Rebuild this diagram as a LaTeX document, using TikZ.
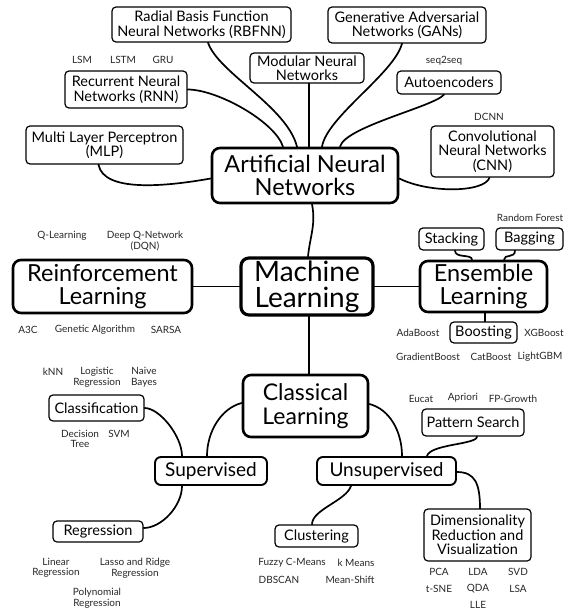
\documentclass[tikz,border=0pt]{standalone}
\usepackage{fontspec}
\setmainfont{Lato}
\usepackage{tikz}

\begin{document}
\begin{tikzpicture}
	[
	x=1pt, y=-1pt, line width=1.7pt, line cap=round,
	%Stile fuer die Kaesten und Beschriftungen
	kasten/.style 2 args={minimum width=#1pt, minimum height=#2pt},
	gross/.style={draw, line width=2.6pt, rounded corners=8pt, align=center, inner sep=0pt, font=\fontsize{23.5}{23}\selectfont},
	mittel/.style={draw, line width=1.9pt, rounded corners=6pt, align=center, inner sep=0pt, font=\fontsize{19}{19}\selectfont},
	klein/.style={draw, line width=1.2pt, rounded corners=4pt, align=center, inner sep=0pt, font=\fontsize{14.5}{14.5}\selectfont},
	wort/.style={align=center, inner sep=0pt, text=black!85, font=\fontsize{10}{10.5}\selectfont}
	]
	
	%Rahmen
	\useasboundingbox (0,0) rectangle (564,615);
	
	%Hauptkaesten
	\node[gross, kasten={186}{55}] (ann) at (305,175.5) {Artificial Neural\\Networks};
	\node[gross, line width=3.2pt, font=\fontsize{28}{26}\selectfont, kasten={132}{57}] (ml) at (307,286.5) {Machine\\Learning};
	\node[gross, kasten={179}{53}] (rl) at (102.5,286.5) {Reinforcement\\Learning};
	\node[gross, kasten={127}{51}] (ens) at (483.5,286.5) {Ensemble\\Learning};
	\node[gross, font=\fontsize{23}{24}\selectfont, kasten={125}{62}] (cl) at (305.5,406) {Classical\\Learning};
	
	%Supervised und Unsupervised
	\node[mittel, kasten={112}{28}] (sup) at (211,471) {Supervised};
	\node[mittel, kasten={139}{28}] (uns) at (386.5,471) {Unsupervised};
	
	%Kleine Kaesten
	\node[klein, kasten={179}{35}] (rbf) at (201.5,24.5) {Radial Basis Function\\Neural Networks (RBFNN)};
	\node[klein, kasten={114}{30}] (mod) at (307,68) {Modular Neural\\Networks};
	\node[klein, kasten={158}{36}] (gan) at (407,25) {Generative Adversarial\\Networks (GANs)};
	\node[klein, kasten={122}{37}] (rnn) at (126,89.5) {Recurrent Neural\\Networks (RNN)};
	\node[klein, kasten={104}{23}] (aut) at (449,82.5) {Autoencoders};
	\node[klein, kasten={157}{38}] (mlp) at (104.5,145) {Multi Layer Perceptron\\(MLP)};
	\node[klein, kasten={123}{51}] (cnn) at (492.5,151.5) {Convolutional\\Neural Networks\\(CNN)};
	\node[klein, kasten={65}{22}] (stk) at (451.5,239) {Stacking};
	\node[klein, kasten={67}{22}] (bag) at (529.5,239) {Bagging};
	\node[klein, kasten={67}{21}] (boo) at (483.5,332.5) {Boosting};
	\node[klein, kasten={102}{27}] (pat) at (473,422.5) {Pattern Search};
	\node[klein, kasten={95}{26}] (cla) at (96.5,408) {Classification};
	\node[klein, kasten={90}{21}] (reg) at (98,531.5) {Regression};
	\node[klein, kasten={83}{22}] (clu) at (316.5,536) {Clustering};
	\node[klein, kasten={107}{52}] (dim) at (477.5,535) {Dimensionality\\Reduction and\\Visualization};
	
	%Beschriftungen
	\node[wort] (lsm) at (82,60) {LSM};
	\node[wort] (lstm) at (123,60) {LSTM};
	\node[wort] (gru) at (163,60) {GRU};
	\node[wort] (s2s) at (444,61) {seq2seq};
	\node[wort] (dcnn) at (489,117) {DCNN};
	\node[wort] (ql) at (62,236) {Q-Learning};
	\node[wort] (dqn) at (145,241) {Deep Q-Network\\(DQN)};
	\node[wort] (a3c) at (28,330) {A3C};
	\node[wort] (gen) at (95,330) {Genetic Algorithm};
	\node[wort] (sarsa) at (166,330) {SARSA};
	\node[wort] (rf) at (530,218) {Random Forest};
	\node[wort] (ada) at (418,333) {AdaBoost};
	\node[wort] (xgb) at (544,333) {XGBoost};
	\node[wort] (grad) at (428,357) {GradientBoost};
	\node[wort] (cat) at (491,357) {CatBoost};
	\node[wort] (lgbm) at (540,357) {LightGBM};
	\node[wort] (knn) at (53,372) {kNN};
	\node[wort] (logr) at (97,377) {Logistic\\Regression};
	\node[wort] (nb) at (144,377) {Naive\\Bayes};
	\node[wort] (dt) at (80,439) {Decision\\Tree};
	\node[wort] (svm) at (119,434) {SVM};
	\node[wort] (lin) at (56,568) {Linear\\Regression};
	\node[wort] (lasso) at (135,568) {Lasso and Ridge\\Regression};
	\node[wort] (poly) at (97,598) {Polynomial\\Regression};
	\node[wort] (euc) at (421,399) {Eucat};
	\node[wort] (apr) at (463,398) {Apriori};
	\node[wort] (fpg) at (513,399) {FP-Growth};
	\node[wort] (fcm) at (292,563) {Fuzzy C-Means};
	\node[wort] (km) at (356,563) {k Means};
	\node[wort] (dbs) at (279,580) {DBSCAN};
	\node[wort] (ms) at (350,580) {Mean-Shift};
	\node[wort] (pca) at (439,572) {PCA};
	\node[wort] (lda) at (478,572) {LDA};
	\node[wort] (svd) at (518,572) {SVD};
	\node[wort] (tsne) at (439,589) {t-SNE};
	\node[wort] (qda) at (478,589) {QDA};
	\node[wort] (lsa) at (518,589) {LSA};
	\node[wort] (lle) at (478,605) {LLE};
	
	%Verbindungen zur Mitte
	\draw ([xshift=7pt]ann.south) .. controls +(4,20) and +(2,-20) .. ([xshift=1pt]ml.north);
	\draw (rl) -- (ml);
	\draw (ml) -- (ens);
	\draw ([xshift=2pt]ml.south) .. controls +(0,20) and +(0,-20) .. ([xshift=3.5pt]cl.north);
	
	%Verbindungen Neuronale Netze
	\draw ([xshift=-6pt]mlp.south) .. controls +(5,28) and +(-45,8) .. ([yshift=-3pt]ann.west);
	\draw (rnn.east) .. controls +(30,0) and +(-8,-25) .. ([xshift=-22pt]ann.north);
	\draw ([xshift=6.5pt]rbf.south) .. controls +(10,30) and +(-10,-40) .. ([xshift=-8pt]ann.north);
	\draw ([xshift=2pt]mod.south) -- ([xshift=4pt]ann.north);
	\draw ([xshift=-5pt]gan.south) .. controls +(-8,30) and +(5,-30) .. ([xshift=17pt]ann.north);
	\draw ([xshift=-5pt]aut.south) .. controls +(-10,12) and +(5,-20) .. ([xshift=35pt]ann.north);
	\draw ([xshift=-3pt]cnn.south) .. controls +(-5,15) and +(30,15) .. ([yshift=-3pt]ann.east);
	
	%Verbindungen Ensemble
	\draw ([xshift=3.5pt]stk.south) .. controls +(0,8) and +(0,-6) .. ([xshift=-11.5pt]ens.north);
	\draw ([xshift=-14.5pt]bag.south) .. controls +(0,8) and +(0,-6) .. ([xshift=20.5pt]ens.north);
	\draw ([xshift=1.5pt]ens.south) -- ([xshift=1.5pt]boo.north);
	
	%Verbindungen Classical Learning
	\draw ([yshift=3pt]cl.west) .. controls +(-20,5) and +(0,-25) .. ([xshift=-4pt]sup.north);
	\draw ([yshift=2pt]cl.east) .. controls +(20,5) and +(0,-25) .. ([xshift=15.5pt]uns.north);
	\draw ([xshift=-29pt]sup.north) .. controls +(0,-20) and +(15,0) .. (cla.east);
	\draw ([xshift=-29pt]sup.south) .. controls +(0,20) and +(18,0) .. ([yshift=3.5pt]reg.east);
	\draw ([xshift=40.5pt]uns.north) .. controls +(3,-12) and +(0,8) .. ([xshift=4pt]pat.south);
	\draw ([yshift=-1pt]uns.east) .. controls +(18,0) and +(0,-25) .. ([xshift=2.5pt]dim.north);
	\draw ([xshift=-35.5pt]uns.south) .. controls +(-5,15) and +(0,-15) .. ([xshift=-4.5pt]clu.north);
	
\end{tikzpicture}
\end{document}
